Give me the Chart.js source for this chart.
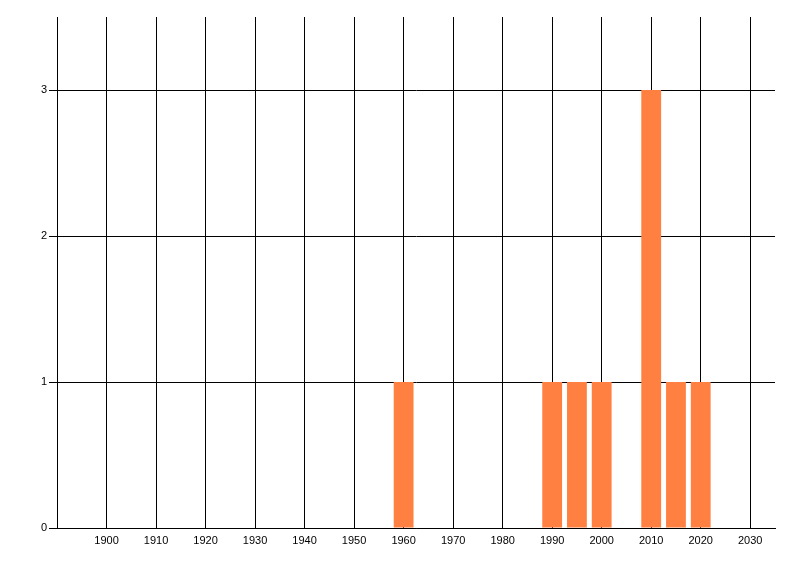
<!DOCTYPE html>
<html>
<head>
<meta charset="utf-8">
<script src="https://cdn.jsdelivr.net/npm/chart.js@4.4.0/dist/chart.umd.min.js"></script>
<style>
    body { margin: 0; background: #fff; }
    #wrap { width: 800px; height: 576px; }
</style>
</head>
<body>
<div id="wrap"><canvas id="barChart"></canvas></div>
<script>
// datos del gráfico
const years = [1960, 1990, 1995, 2000, 2010, 2015, 2020];
const counts = [1, 1, 1, 1, 3, 1, 1];
const xTicks = [1900, 1910, 1920, 1930, 1940, 1950, 1960, 1970, 1980, 1990, 2000, 2010, 2020, 2030];
const yTicks = [0, 1, 2, 3];

const canvas = document.getElementById("barChart");

new Chart(canvas, {
    type: "bar",
    data: {
        datasets: [
            {
                data: years.map((y, i) => ({ x: y, y: counts[i] })),
                backgroundColor: "#FF8040",
                barPercentage: 1,
                categoryPercentage: 0.8,
            },
        ],
    },
    options: {
        responsive: true,
        maintainAspectRatio: false,
        animation: false,
        layout: { padding: { top: 17, right: 25, left: 0, bottom: 0 } },
        plugins: {
            legend: { display: false },
            tooltip: { enabled: false },
        },
        scales: {
            x: {
                type: "linear",
                min: 1890,
                max: 2035,
                offset: false,
                grid: { offset: false, color: "#000", lineWidth: 1, drawTicks: false },
                border: { color: "#000", width: 1 },
                ticks: {
                    color: "#000",
                    font: { family: "Liberation Sans", size: 11 },
                    padding: 6,
                    maxRotation: 0,
                    callback: (v) => String(v), // sin separador de miles
                },
                afterBuildTicks: (axis) => { axis.ticks = xTicks.map((v) => ({ value: v })); },
                afterFit: (axis) => { axis.height = 48; },
            },
            y: {
                min: 0,
                max: 3.5,
                grid: { color: "#000", lineWidth: 1, tickLength: 8 },
                border: { color: "#000", width: 1 },
                ticks: { color: "#000", font: { family: "Liberation Sans", size: 11 }, padding: 2 },
                afterBuildTicks: (axis) => { axis.ticks = yTicks.map((v) => ({ value: v })); },
                afterFit: (axis) => { axis.width = 57; },
            },
        },
    },
});
</script>
</body>
</html>
